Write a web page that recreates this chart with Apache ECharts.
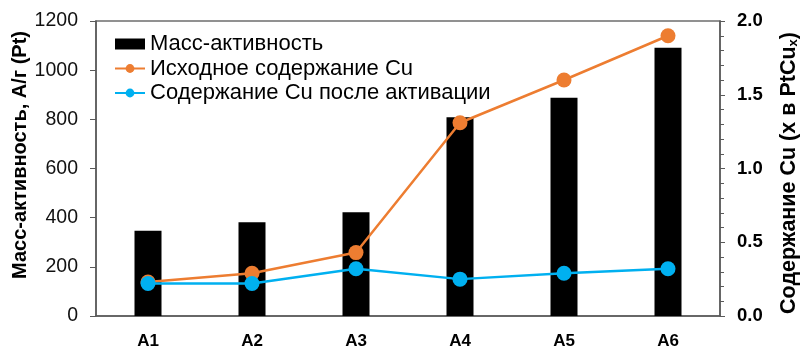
<!DOCTYPE html>
<html>
<head>
<meta charset="utf-8">
<script src="https://cdn.jsdelivr.net/npm/echarts@6/dist/echarts.min.js"></script>
<style>
  html, body { margin: 0; padding: 0; background: #fff; }
  #chart { width: 800px; height: 347px; }
</style>
</head>
<body>
<div id="chart"></div>
<script>
// Samples A1..A6
const categories = ['A1', 'A2', 'A3', 'A4', 'A5', 'A6'];
// Mass activity, A/g(Pt)
const massActivity = [347, 381, 422, 808, 888, 1091];
// Cu content x in PtCu_x, as prepared
const cuInitial = [0.23, 0.29, 0.43, 1.31, 1.60, 1.90];
// Cu content x in PtCu_x, after activation
const cuActivated = [0.22, 0.22, 0.32, 0.25, 0.29, 0.32];

const FONT = '"Liberation Sans", Arial, sans-serif';
const chart = echarts.init(document.getElementById('chart'), null, { renderer: 'canvas' });

chart.setOption({
  animation: false,
  backgroundColor: '#fff',
  textStyle: { fontFamily: FONT, color: '#000' },
  grid: {
    left: 96, right: 80, top: 21, bottom: 31,
    outerBoundsMode: 'none', containLabel: false,
    show: true, borderColor: '#6e6e6e', borderWidth: 1.5, backgroundColor: 'transparent'
  },
  legend: {
    orient: 'vertical',
    left: 114, top: 33, padding: 0,
    itemWidth: 30, itemHeight: 11, itemGap: 2.5,
    textStyle: { fontFamily: FONT, fontSize: 22, color: '#000', lineHeight: 22 },
    data: [
      { name: 'Масс-активность', icon: 'rect' },
      { name: 'Исходное содержание Cu' },
      { name: 'Содержание Cu после активации' }
    ]
  },
  xAxis: {
    type: 'category',
    data: categories,
    axisLine: { lineStyle: { color: '#595959', width: 1.5 } },
    axisTick: { show: false },
    axisLabel: { fontFamily: FONT, fontSize: 17, fontWeight: 'bold', color: '#000', margin: 17 }
  },
  yAxis: [
    {
      type: 'value', min: 0, max: 1200, interval: 200,
      axisLine: { show: true, lineStyle: { color: '#595959', width: 1.5 } },
      axisTick: { show: true, length: 6, lineStyle: { color: '#595959' } },
      splitLine: { show: false },
      axisLabel: {
        fontFamily: FONT, fontSize: 19.5, color: '#111', margin: 18,
        formatter: v => String(v)
      }
    },
    {
      type: 'value', min: 0, max: 2, interval: 0.5,
      axisLine: { show: true, lineStyle: { color: '#595959', width: 1.5 } },
      axisTick: { show: true, length: 5, lineStyle: { color: '#595959' } },
      minorTick: { show: true, splitNumber: 5, length: 4, lineStyle: { color: '#595959' } },
      splitLine: { show: false },
      axisLabel: {
        fontFamily: FONT, fontSize: 18.5, fontWeight: 'bold', color: '#000', margin: 17,
        formatter: v => v.toFixed(1)
      }
    }
  ],
  graphic: [
    {
      type: 'text', x: 20, y: 155, rotation: Math.PI / 2,
      style: {
        text: 'Масс-активность, А/г (Pt)',
        font: 'bold 20px ' + FONT, fill: '#000',
        align: 'center', verticalAlign: 'middle'
      }
    },
    {
      type: 'text', x: 789, y: 173, rotation: Math.PI / 2,
      style: {
        text: '{a|Содержание Cu (x в PtCu}{s|x}{a|)}',
        align: 'center', verticalAlign: 'middle',
        rich: {
          a: { font: 'bold 21.5px ' + FONT, fill: '#000' },
          s: { font: 'bold 13px ' + FONT, fill: '#000', padding: [9, 0, 0, 0] }
        }
      }
    }
  ],
  series: [
    {
      name: 'Масс-активность',
      type: 'bar',
      yAxisIndex: 0,
      data: massActivity,
      barWidth: 27,
      itemStyle: { color: '#000' },
      z: 1
    },
    {
      name: 'Исходное содержание Cu',
      type: 'line',
      yAxisIndex: 1,
      data: cuInitial,
      symbol: 'circle', symbolSize: 15,
      lineStyle: { color: '#ED7D31', width: 2.5 },
      itemStyle: { color: '#ED7D31' },
      z: 3
    },
    {
      name: 'Содержание Cu после активации',
      type: 'line',
      yAxisIndex: 1,
      data: cuActivated,
      symbol: 'circle', symbolSize: 15,
      lineStyle: { color: '#00B0F0', width: 2.5 },
      itemStyle: { color: '#00B0F0' },
      z: 4
    }
  ]
});
</script>
</body>
</html>
